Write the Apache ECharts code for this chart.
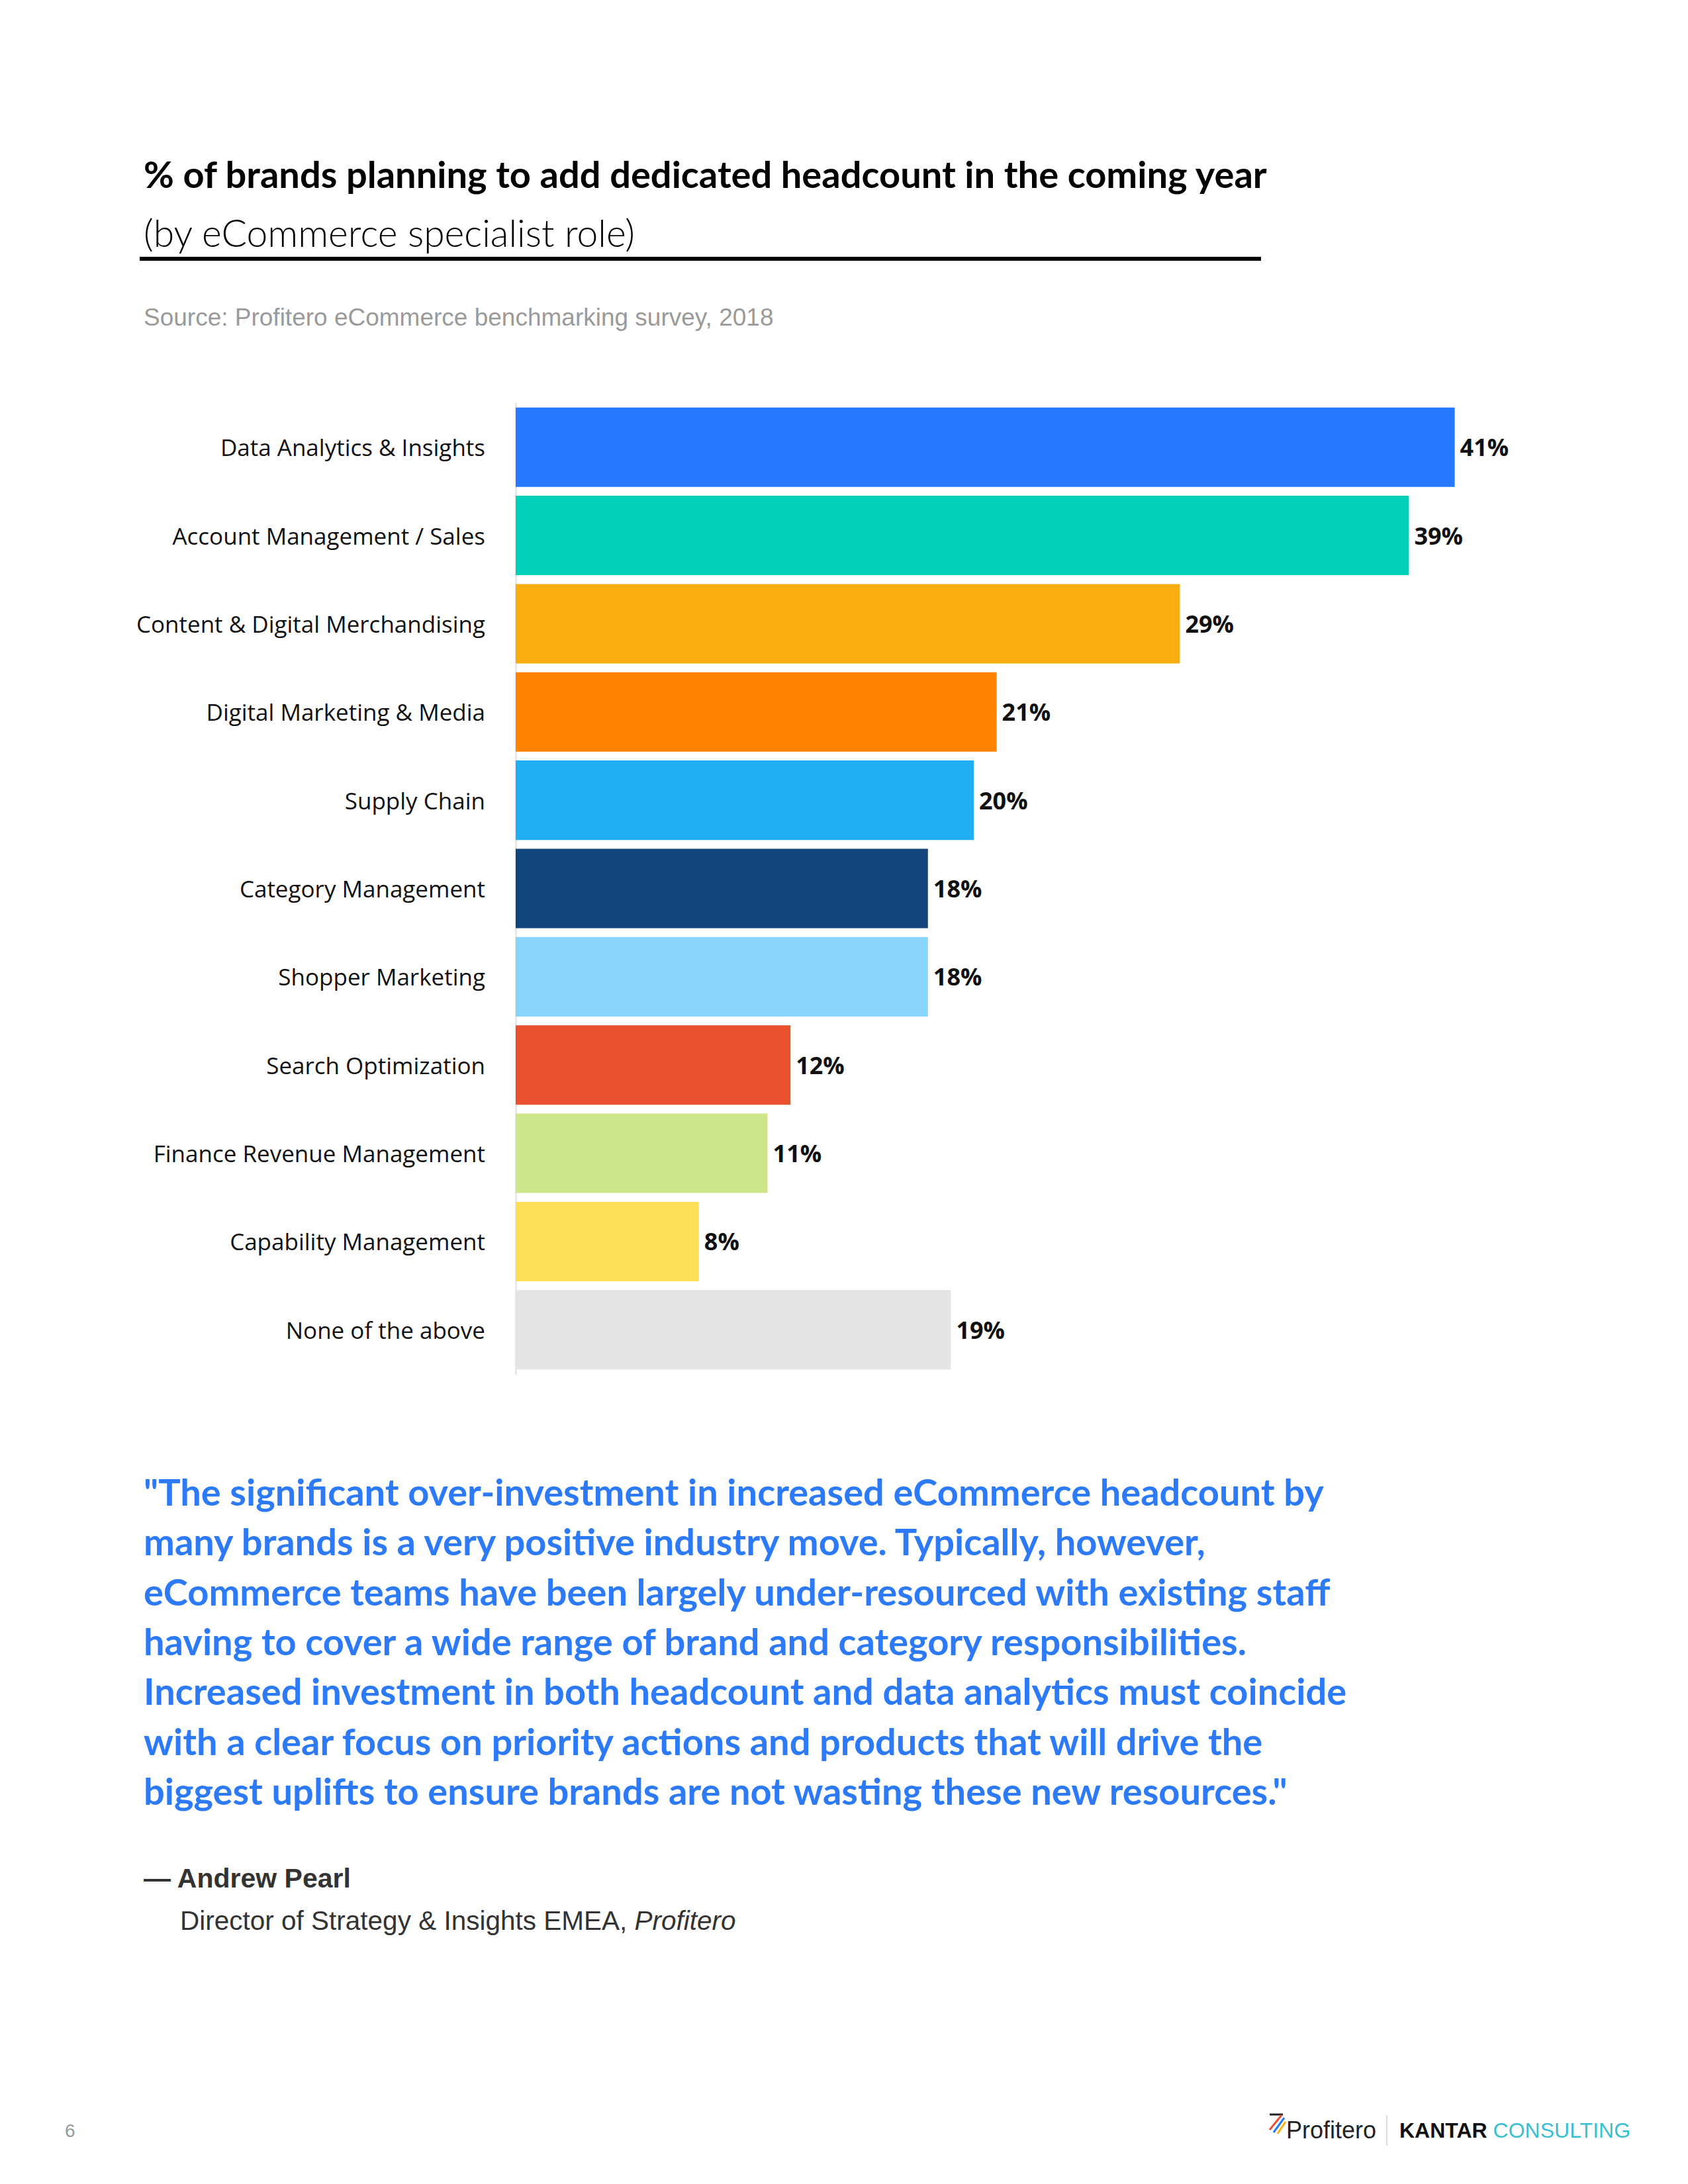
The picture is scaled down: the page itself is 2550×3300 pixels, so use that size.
<!DOCTYPE html>
<html><head><meta charset="utf-8">
<script src="https://cdn.jsdelivr.net/npm/echarts@6/dist/echarts.min.js"></script>
<style>html,body{margin:0;padding:0;background:#fff}#c{width:2550px;height:3300px}</style>
</head><body><div id="c"></div>
<script>
const categories = ["Data Analytics & Insights","Account Management / Sales","Content & Digital Merchandising","Digital Marketing & Media","Supply Chain","Category Management","Shopper Marketing","Search Optimization","Finance Revenue Management","Capability Management","None of the above"];
const values = [41,39,29,21,20,18,18,12,11,8,19];
const palette = ["#2479FF","#00D1B8","#F8AE10","#FF8200","#22AEF4","#12457C","#88D5FC","#E8502E","#CEE68A","#FFDF55","#E4E4E4"];
const quoteLines = [
 '"The significant over-investment in increased eCommerce headcount by',
 'many brands is a very positive industry move. Typically, however,',
 'eCommerce teams have been largely under-resourced with existing staff',
 'having to cover a wide range of brand and category responsibilities.',
 'Increased investment in both headcount and data analytics must coincide',
 'with a clear focus on priority actions and products that will drive the',
 'biggest uplifts to ensure brands are not wasting these new resources."'
];
const chart = echarts.init(document.getElementById('c'), null, {renderer:'svg'});
const condensed = '"Open Sans",sans-serif';
chart.setOption({
  backgroundColor:'#fff',
  animation:false,
  grid:{left:779,right:41,top:609,height:1467},
  xAxis:{type:'value',min:0,max:50,show:false,splitLine:{show:false}},
  yAxis:{type:'category',data:categories,inverse:true,
    axisLine:{show:true,lineStyle:{color:'#e8e8e8',width:3}},
    axisTick:{show:false},
    axisLabel:{margin:46,fontSize:35,color:'#111',fontFamily:condensed}},
  series:[{type:'bar',barCategoryGap:'10%',
    data:values.map((v,i)=>({value:v,itemStyle:{color:palette[i]}})),
    label:{show:true,position:'right',distance:8,formatter:'{c}%',fontSize:36,fontWeight:'bold',color:'#111',fontFamily:condensed}}],
  graphic:[
    {type:'text',left:217,top:234,style:{text:'% of brands planning to add dedicated headcount in the coming year',font:'bold 56px Lato',fill:'#000'}},
    {type:'text',left:217,top:322,style:{text:'(by eCommerce specialist role)',font:'300 57px Lato',fill:'#000'}},
    {type:'rect',shape:{x:211,y:388,width:1694,height:6},style:{fill:'#000'}},
    {type:'text',left:217,top:461,style:{text:'Source: Profitero eCommerce benchmarking survey, 2018',font:'37px "Liberation Sans"',fill:'#9a9a9a'}},
    {type:'text',left:217,top:2216,style:{text:quoteLines.join('\n'),font:'bold 56px Lato',fill:'#2D7AF8',lineHeight:75.3}},
    {type:'text',left:217,top:2817,style:{text:'— Andrew Pearl',font:'bold 41px "Liberation Sans"',fill:'#333'}},
    {type:'text',left:272,top:2881,style:{rich:{a:{font:'40.5px "Liberation Sans"',fill:'#333'},b:{font:'italic 40.5px "Liberation Sans"',fill:'#333'}},text:'{a|Director of Strategy & Insights EMEA, }{b|Profitero}'}},
    {type:'text',left:98,top:3205,style:{text:'6',font:'28px "Liberation Sans"',fill:'#999'}},
    {type:'line',shape:{x1:1918,y1:3195,x2:1938,y2:3195},style:{stroke:'#222',lineWidth:3}},
    {type:'line',shape:{x1:1936,y1:3196,x2:1918,y2:3218},style:{stroke:'#E8502E',lineWidth:3}},
    {type:'line',shape:{x1:1940,y1:3200,x2:1924,y2:3222},style:{stroke:'#2479FF',lineWidth:3}},
    {type:'line',shape:{x1:1942,y1:3206,x2:1930,y2:3224},style:{stroke:'#F8AE10',lineWidth:3}},
    {type:'text',left:1943,top:3200,style:{text:'Profitero',font:'36px "Liberation Sans"',fill:'#222'}},
    {type:'rect',shape:{x:2094,y:3196,width:2,height:46},style:{fill:'#ddd'}},
    {type:'text',left:2114,top:3203,style:{rich:{a:{font:'bold 32px "Liberation Sans"',fill:'#111'},b:{font:'32px "Liberation Sans"',fill:'#3BBFD0'}},text:'{a|KANTAR }{b|CONSULTING}'}}
  ]
});
</script></body></html>
